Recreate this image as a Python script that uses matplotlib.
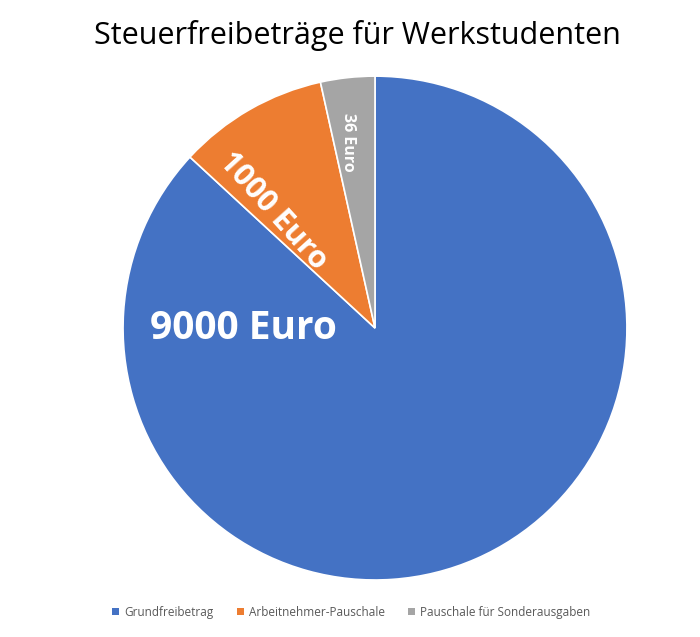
import matplotlib
matplotlib.use("Agg")
import matplotlib.pyplot as plt
from matplotlib.patches import Patch

plt.rcParams['font.family'] = ['Open Sans', 'DejaVu Sans']

categories = ['Grundfreibetrag', 'Arbeitnehmer-Pauschale', 'Pauschale für Sonderausgaben']
# slice sizes as drawn (the gray slice is drawn larger than its 36 Euro label)
slice_values = [9000, 1000, 360]
slice_labels = ['9000 Euro', '1000 Euro', '36 Euro']
colors = ['#4472C4', '#ED7D31', '#A5A5A5']

fig = plt.figure(figsize=(7, 6.37), dpi=100)
ax = fig.add_axes([0.1757, 0.0895, 0.72, 0.791])

wedges, _ = ax.pie(slice_values, colors=colors, startangle=90, counterclock=False,
                   radius=1.0, wedgeprops=dict(edgecolor='white', linewidth=1.2))
ax.set_xlim(-1, 1)
ax.set_ylim(-1, 1)
ax.set_aspect('equal')

# data labels
ax.text(-0.524, 0.0, slice_labels[0], color='white', fontsize=28, fontweight='bold',
        ha='center', va='center')
ax.text(-0.405, 0.462, slice_labels[1], color='white', fontsize=22, fontweight='bold',
        ha='center', va='center', rotation=-48, rotation_mode='anchor')
ax.text(-0.107, 0.738, slice_labels[2], color='white', fontsize=11.5, fontweight='bold',
        ha='center', va='center', rotation=-90, rotation_mode='anchor')

fig.text(0.51, 0.945, 'Steuerfreibeträge für Werkstudenten', fontsize=22,
         ha='center', va='center', color='#000000')

handles = [Patch(facecolor=c, edgecolor='none') for c in colors]
leg = fig.legend(handles, categories, loc='center', bbox_to_anchor=(0.502, 0.039),
                 ncol=3, frameon=False, fontsize=8.5, handlelength=0.6, handleheight=0.6,
                 columnspacing=2.0, handletextpad=0.4)
for t in leg.get_texts():
    t.set_color('#595959')

fig.savefig('out.png', dpi=100)
